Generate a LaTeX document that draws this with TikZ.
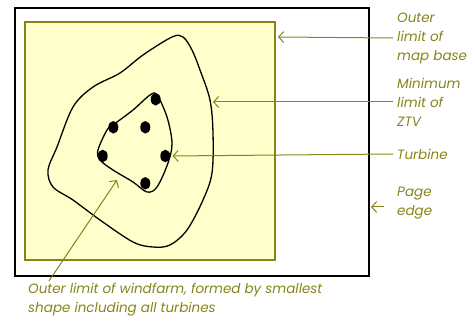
\documentclass[tikz,border=0pt]{standalone}
\usepackage{fontspec}
\setmainfont{Poppins}
\usetikzlibrary{arrows.meta,shapes.geometric}
\definecolor{olivetxt}{HTML}{858518}
\definecolor{mapfill}{HTML}{FFFFCC}
\begin{document}
\begin{tikzpicture}[x=1pt,y=-1pt,
  lbl/.style={inner sep=0pt,anchor=west,align=left,text=olivetxt,
    font=\fontsize{13.5}{19}\selectfont\itshape},
  pointer/.style={olivetxt,line width=1pt,-{Straight Barb[length=5pt,width=11pt]}},
  turbine/.style={ellipse,fill=black,inner sep=0pt,minimum width=10pt,minimum height=12.5pt},
  contour/.style={black,line width=1.3pt,line join=round}]
  \useasboundingbox (0,0) rectangle (474,320);
  % Page and map base
  \draw[black,line width=1.5pt] (15,8) rectangle (369,276);
  \draw[olivetxt,line width=1.5pt,fill=mapfill] (25,22) rectangle (275,260);
  % ZTV limit and windfarm outline
  \draw[contour] plot[smooth cycle,tension=0.55] coordinates {
    (172,37) (183,37) (192,50) (200,70) (210,100) (213,133) (212,173)
    (203,200) (187,230) (170,245) (153,247) (133,242) (100,220) (73,200)
    (53,187) (48,170) (57,147) (73,107) (93,87) (120,73) (143,55)};
  \draw[contour] plot[smooth cycle,tension=0.55] coordinates {
    (157,95) (167,117) (172,143) (168,163) (157,187) (147,192) (133,182)
    (113,170) (100,160) (98,150) (107,130) (113,125) (133,110) (150,95)};
  \node[turbine] (t1) at (155.7,99.3) {};
  \node[turbine] (t2) at (113.3,127.3) {};
  \node[turbine] (t3) at (145.3,127.3) {};
  \node[turbine] (t4) at (102.7,156) {};
  \node[turbine] (t5) at (165.3,156) {};
  \node[turbine] (t6) at (145.3,183.3) {};
  % Labels
  \node[lbl] (mapbase) at (397,38) {Outer\\limit of\\map base};
  \node[lbl] (ztv) at (397,102) {Minimum\\limit of\\ZTV};
  \node[lbl] (turb) at (397,154) {Turbine};
  \node[lbl] (page) at (397,203) {Page\\edge};
  \node[lbl,anchor=north west] (wf) at (28,283)
    {Outer limit of windfarm, formed by smallest\\shape including all turbines};
  \coordinate (maptip) at (278,37);
  \coordinate (ztvtip) at (213,102);
  \coordinate (pagetip) at (371,207);
  \coordinate (pagetail) at (384,207);
  \coordinate (wftail) at (49,281);
  \coordinate (wftip) at (117,180);
  \draw[pointer] ([xshift=-4pt]mapbase.west) -- (maptip);
  \draw[pointer] ([xshift=-4pt]ztv.west) -- (ztvtip);
  \draw[pointer,shorten >=2pt] ([xshift=-4pt]turb.west) -- (t5.east);
  \draw[pointer] (pagetail) -- (pagetip);
  \draw[pointer] (wftail) -- (wftip);
\end{tikzpicture}
\end{document}
